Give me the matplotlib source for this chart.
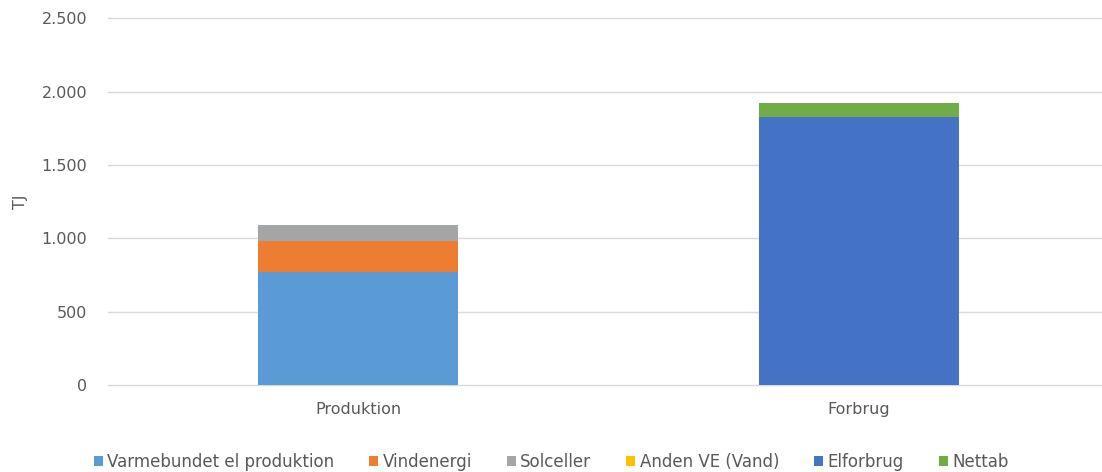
import matplotlib.pyplot as plt
from matplotlib.ticker import FuncFormatter

categories = ['Produktion', 'Forbrug']
series_names = ['Varmebundet el produktion', 'Vindenergi', 'Solceller',
                'Anden VE (Vand)', 'Elforbrug', 'Nettab']
varme = [772, 0]
vind = [211, 0]
sol = [109, 0]
anden = [0, 0]
elforbrug = [0, 1826]
nettab = [0, 97]
colors = ['#5B9BD5', '#ED7D31', '#A5A5A5', '#FFC000', '#4472C4', '#70AD47']

plt.rcParams['font.family'] = ['DejaVu Sans']
txt = '#595959'

fig = plt.figure(figsize=(11.02, 4.72), dpi=100)
ax = fig.add_axes([108/1102, 87/472, 1001/1102, 366.7/472])

x = list(range(len(categories)))
bottom = [0, 0]
for name, vals, c in zip(series_names, [varme, vind, sol, anden, elforbrug, nettab], colors):
    ax.bar(x, vals, 0.4, bottom=bottom, color=c, label=name, zorder=3)
    bottom = [b + v for b, v in zip(bottom, vals)]

ax.set_xlim(-0.5, 1.5)
ax.set_ylim(0, 2500)
ax.set_yticks(range(0, 2501, 500))
ax.yaxis.set_major_formatter(FuncFormatter(lambda v, p: f'{int(v):,}'.replace(',', '.')))
ax.set_xticks(x)
ax.set_xticklabels(categories)
ax.grid(axis='y', color='#D9D9D9', lw=1, zorder=0)
for gl in ax.get_ygridlines():
    gl.set_clip_on(False)
for s in ax.spines.values():
    s.set_visible(False)
ax.tick_params(axis='both', length=0, colors=txt, labelsize=11.5)
ax.tick_params(axis='y', pad=15)
ax.tick_params(axis='x', pad=12)
ax.set_ylabel('TJ', color=txt, fontsize=11.5, labelpad=10)

leg = fig.legend(loc='center', bbox_to_anchor=(0.5, 10/472), ncol=6, frameon=False,
                 fontsize=12, handlelength=0.55, handleheight=0.55, handletextpad=0.25,
                 columnspacing=2.1)
for t in leg.get_texts():
    t.set_color(txt)

fig.savefig('out.png', dpi=100)
